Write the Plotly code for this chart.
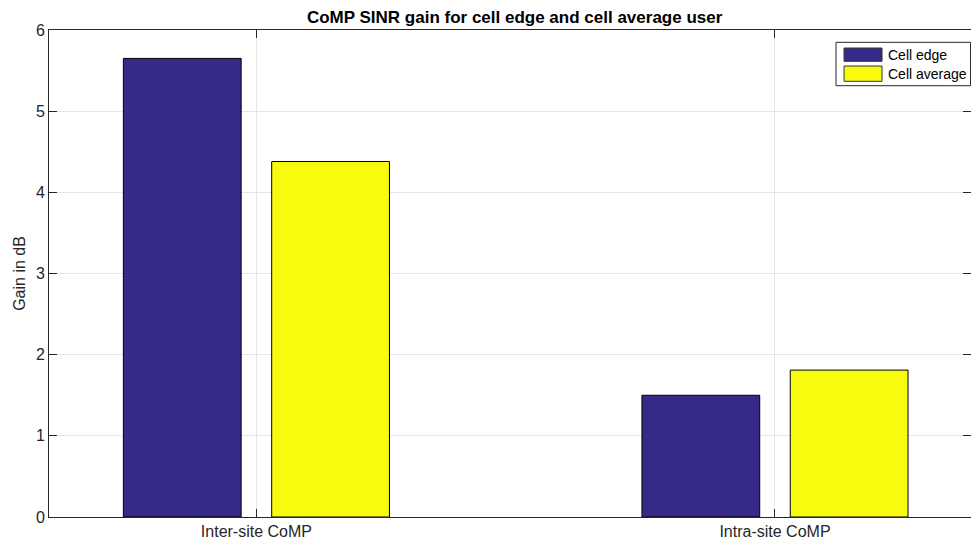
import plotly.graph_objects as go

categories = ["Inter-site CoMP", "Intra-site CoMP"]
series_names = ["Cell edge", "Cell average"]
cell_edge = [5.65, 1.50]
cell_average = [4.38, 1.81]
series_colors = ["#352a87", "#f9fb0e"]

AXIS = "#262626"
GRID = "#e6e6e6"
FONT = "Liberation Sans, Arial, sans-serif"

fig = go.Figure()
for name, values, color in zip(series_names, [cell_edge, cell_average], series_colors):
    fig.add_trace(go.Bar(
        x=categories, y=values, name=name,
        marker=dict(color=color, line=dict(color="black", width=1)),
        showlegend=False,
    ))

# MATLAB-style legend box with wide swatches (plotly's own swatches are tiny squares)
fig.add_shape(type="rect", xref="paper", yref="paper",
              x0=0.8536, x1=0.9995, y0=0.8856, y1=0.9747,
              line=dict(color=AXIS, width=1), fillcolor="white", layer="above")
swatch_rows = [(0.9357, 0.963), (0.8946, 0.926)]
for name, color, (y0, y1) in zip(series_names, series_colors, swatch_rows):
    fig.add_shape(type="rect", xref="paper", yref="paper",
                  x0=0.8623, x1=0.9035, y0=y0, y1=y1,
                  line=dict(color="#333333", width=1), fillcolor=color, layer="above")
    fig.add_annotation(xref="paper", yref="paper", x=0.9078, y=(y0 + y1) / 2,
                       text=name, showarrow=False, xanchor="left", yanchor="middle",
                       font=dict(family=FONT, size=14, color="black"))

fig.update_layout(
    width=971, height=542,
    margin=dict(l=49, r=0, t=30, b=25),
    paper_bgcolor="white", plot_bgcolor="white",
    barmode="group", bargap=0.428, bargroupgap=0.206,
    font=dict(family=FONT, size=16, color=AXIS),
    title=dict(
        text="<b>CoMP SINR gain for cell edge and cell average user</b>",
        x=0.53, xanchor="center", y=0.968, yanchor="middle",
        font=dict(family=FONT, size=17, color="black"),
    ),
)
fig.update_xaxes(
    range=[-0.4, 1.378], showline=True, linecolor=AXIS, linewidth=1, mirror="ticks",
    ticks="inside", ticklen=8, tickcolor=AXIS,
    showgrid=True, gridcolor=GRID, gridwidth=1,
    tickfont=dict(family=FONT, size=16, color=AXIS),
)
fig.update_yaxes(
    range=[0, 6], dtick=1, showline=True, linecolor=AXIS, linewidth=1, mirror="ticks",
    ticks="inside", ticklen=8, tickcolor=AXIS,
    showgrid=True, gridcolor=GRID, gridwidth=1, zeroline=False,
    tickfont=dict(family=FONT, size=16, color=AXIS),
    title=dict(text="Gain in dB", font=dict(family=FONT, size=16, color=AXIS), standoff=6),
)

fig.write_html(
    "out.html",
    config={"displayModeBar": False},
    post_script="document.body.style.margin='0';",
)
